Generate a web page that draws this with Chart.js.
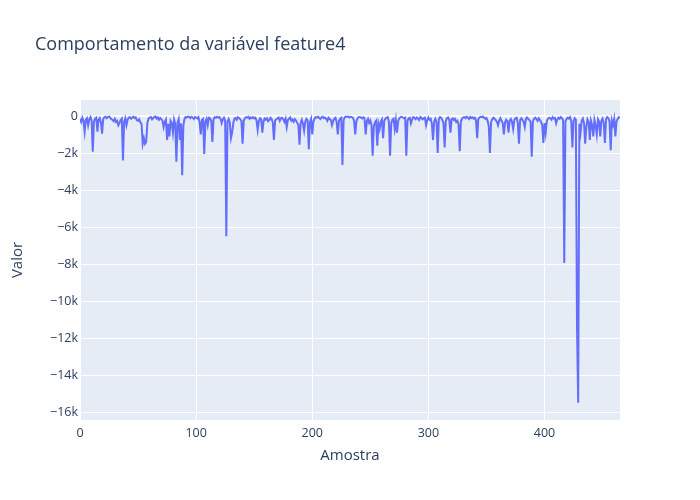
<!DOCTYPE html>
<html>
<head>
<meta charset="utf-8">
<script src="https://cdn.jsdelivr.net/npm/chart.js@4.4.0/dist/chart.umd.min.js"></script>
<style>
  html, body { margin: 0; padding: 0; background: #fff; }
  #wrap { width: 700px; height: 500px; }
</style>
</head>
<body>
<div id="wrap"><canvas id="featChart" width="700" height="500"></canvas></div>
<script>
const titleText = 'Comportamento da variável feature4';
const xTitle = 'Amostra';
const yTitle = 'Valor';
const xTicks = [0, 100, 200, 300, 400];
const yTicks = [0, -2000, -4000, -6000, -8000, -10000, -12000, -14000, -16000];

// valores (amostras 0..465)
const valores = [
  -150, -320, -90, -260, -850, -210, -120, -500, -180, -60,
  -240, -1930, -310, -140, -90, -850, -200, -110, -350, -950,
  -160, -70, -40, -120, -60, -30, -90, -180, -210, -280,
  -150, -320, -260, -500, -380, -220, -140, -2400, -310, -120,
  -500, -200, -80, -60, -150, -90, -40, -110, -70, -230,
  -260, -180, -340, -420, -1500, -1200, -1500, -1400, -380, -150,
  -90, -60, -180, -120, -50, -30, -140, -80, -200, -110,
  -170, -250, -600, -310, -180, -1300, -420, -1100, -260, -380,
  -900, -190, -420, -2470, -350, -160, -1300, -400, -3200, -520,
  -140, -60, -90, -30, -50, -120, -40, -80, -160, -60,
  -90, -130, -60, -350, -1000, -220, -160, -2050, -300, -150,
  -500, -90, -120, -260, -1400, -180, -60, -100, -40, -90,
  -60, -140, -380, -180, -90, -260, -6500, -300, -160, -350,
  -1200, -900, -380, -140, -100, -200, -70, -110, -180, -250,
  -1500, -260, -120, -60, -90, -40, -150, -80, -110, -60,
  -130, -90, -230, -750, -280, -120, -160, -900, -300, -140,
  -200, -120, -280, -220, -90, -160, -350, -1300, -240, -180,
  -130, -80, -260, -120, -90, -170, -310, -140, -600, -220,
  -150, -80, -260, -190, -310, -170, -240, -380, -460, -1550,
  -380, -200, -420, -800, -300, -150, -220, -1800, -340, -160,
  -1000, -300, -140, -60, -90, -40, -110, -160, -70, -30,
  -120, -80, -150, -260, -90, -170, -210, -500, -280, -140,
  -90, -330, -1000, -260, -150, -100, -2650, -220, -60, -30,
  -50, -30, -80, -40, -60, -90, -260, -1000, -300, -120,
  -60, -50, -90, -130, -70, -110, -1000, -280, -150, -370,
  -240, -480, -2150, -560, -340, -260, -1600, -420, -700, -300,
  -180, -1200, -260, -140, -90, -60, -310, -2150, -400, -200,
  -150, -700, -220, -900, -260, -120, -60, -40, -80, -120,
  -90, -2150, -260, -120, -90, -400, -180, -60, -110, -170,
  -80, -140, -220, -60, -100, -180, -130, -90, -500, -240,
  -80, -200, -150, -420, -1300, -280, -140, -320, -2000, -160,
  -60, -90, -220, -380, -1700, -260, -120, -80, -200, -900,
  -180, -120, -220, -150, -320, -260, -470, -1900, -300, -140,
  -80, -60, -120, -40, -90, -160, -50, -110, -70, -140,
  -90, -230, -1200, -150, -80, -40, -60, -30, -90, -150,
  -110, -260, -540, -2000, -320, -180, -90, -140, -220, -310,
  -500, -240, -120, -260, -380, -1000, -340, -200, -280, -900,
  -260, -160, -310, -700, -210, -120, -90, -380, -1500, -220,
  -120, -200, -310, -600, -140, -80, -160, -220, -300, -2200,
  -280, -150, -90, -160, -260, -120, -200, -320, -480, -1450,
  -380, -900, -260, -150, -90, -120, -200, -60, -140, -110,
  -400, -180, -90, -150, -60, -120, -220, -7950, -300, -150,
  -90, -140, -60, -260, -1700, -280, -120, -200, -11500, -15500,
  -420, -900, -260, -140, -380, -1500, -600, -180, -320, -1300,
  -250, -480, -1100, -220, -520, -1000, -180, -300, -1100, -260,
  -140, -380, -1450, -160, -60, -120, -300, -1850, -240, -480,
  -160, -1100, -280, -160, -60, -100
];

const pontos = valores.map((v, i) => ({ x: i, y: v }));

const font = '"Open Sans", verdana, arial, sans-serif';
const txtColor = '#2a3f5f';

function fmtY(v) {
    if (v === 0) return '0';
    return (v < 0 ? '\u2212' : '') + Math.abs(v) / 1000 + 'k';
}

// fundo da area do grafico e textos no estilo plotly
const plotlyLook = {
    id: 'plotlyLook',
    beforeDraw(chart) {
        const { ctx, chartArea } = chart;
        ctx.save();
        ctx.fillStyle = '#E5ECF6';
        ctx.fillRect(chartArea.left, chartArea.top, chartArea.right - chartArea.left, chartArea.bottom - chartArea.top);
        ctx.restore();
    },
    afterDraw(chart) {
        const { ctx, chartArea } = chart;
        ctx.save();
        ctx.fillStyle = txtColor;
        ctx.textBaseline = 'middle';
        ctx.font = '18px ' + font;
        ctx.textAlign = 'left';
        ctx.fillText(titleText, 35, 45);
        ctx.font = '15px ' + font;
        ctx.textAlign = 'center';
        ctx.fillText(xTitle, (chartArea.left + chartArea.right) / 2, 456);
        ctx.translate(18, (chartArea.top + chartArea.bottom) / 2);
        ctx.rotate(-Math.PI / 2);
        ctx.fillText(yTitle, 0, 0);
        ctx.restore();
    }
};

const config = {
    type: 'line',
    data: {
        datasets: [{
            data: pontos,
            borderColor: '#636EFA',
            borderWidth: 2,
            pointRadius: 0,
            tension: 0,
            fill: false
        }]
    },
    options: {
        responsive: false,
        animation: false,
        layout: { padding: { top: 100, right: 80, left: 0, bottom: 0 } },
        plugins: { legend: { display: false }, tooltip: { enabled: false }, title: { display: false } },
        scales: {
            x: {
                type: 'linear',
                min: 0,
                max: 465,
                afterFit(scale) { scale.height = 80; },
                afterBuildTicks(scale) { scale.ticks = xTicks.map(v => ({ value: v })); },
                grid: { color: '#ffffff', lineWidth: 1, drawTicks: false },
                border: { display: false },
                ticks: { color: txtColor, font: { family: font, size: 12.5 }, padding: 6, maxRotation: 0 }
            },
            y: {
                type: 'linear',
                min: -16430,
                max: 865,
                afterFit(scale) { scale.width = 80; },
                afterBuildTicks(scale) { scale.ticks = yTicks.map(v => ({ value: v })); },
                grid: {
                    color: '#ffffff',
                    lineWidth: ctx => (ctx.tick && ctx.tick.value === 0 ? 2 : 1),
                    drawTicks: false
                },
                border: { display: false },
                ticks: { color: txtColor, font: { family: font, size: 12.5 }, padding: 2, callback: v => fmtY(v) }
            }
        }
    },
    plugins: [plotlyLook]
};

const featChart = new Chart(document.getElementById('featChart'), config);
</script>
</body>
</html>
